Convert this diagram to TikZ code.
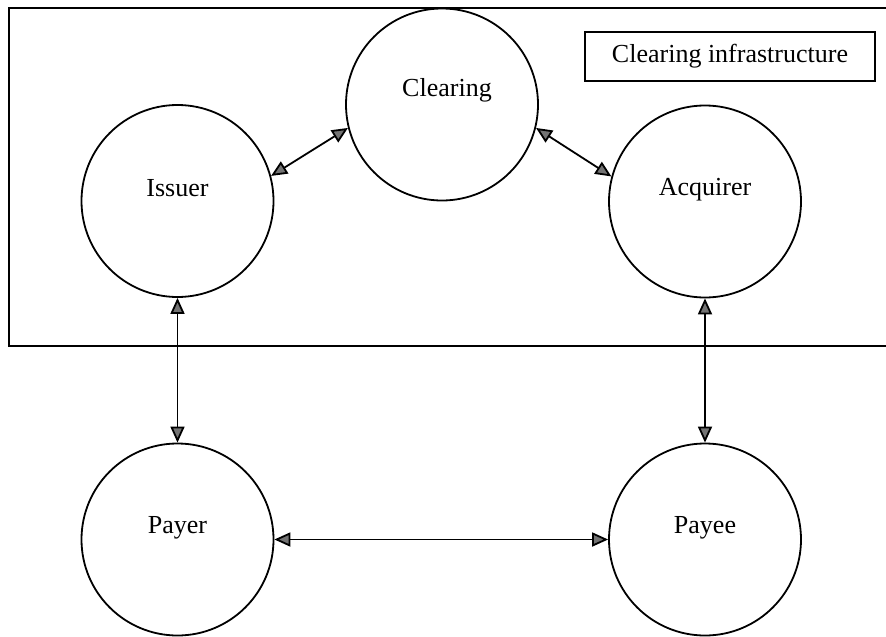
\documentclass[tikz,border=0pt]{standalone}
\usepackage{fontspec}
\setmainfont{Liberation Serif}
\usetikzlibrary{arrows.meta}
\begin{document}
\begin{tikzpicture}[x=1pt,y=-1pt,
  party/.style={draw, circle, line width=1.8pt, minimum size=192pt, inner sep=0pt},
  caption/.style={font=\fontsize{26}{30}\selectfont, inner sep=0pt},
  tip/.tip={Triangle[length=16pt,width=14pt,fill=black!55]},
  link/.style={line width=1.8pt, tip-tip}
]
\useasboundingbox (0,0) rectangle (886,637);
\clip (0,0) rectangle (886,637);

% clearing infrastructure frame (open to the right)
\draw[line width=1.7pt] (900,8) -- (9,8) -- (9,346) -- (900,346);
\node[draw, line width=1.6pt, minimum width=290pt, minimum height=49pt,
      caption, inner sep=0pt] (legend) at (730,56.5) {Clearing infrastructure};

% parties
\node[party, label={[caption, name=tclearing, xshift=5pt, yshift=14pt]center:Clearing}] (clearing) at (442,104.5) {};
\node[party, label={[caption, name=tissuer, yshift=13pt]center:Issuer}] (issuer) at (177.5,201) {};
\node[party, label={[caption, name=tacquirer, yshift=12pt]center:Acquirer}] (acquirer) at (705,201.5) {};
\node[party, label={[caption, name=tpayer, yshift=12pt]center:Payer}] (payer) at (177.5,539.5) {};
\node[party, label={[caption, name=tpayee, yshift=12pt]center:Payee}] (payee) at (705,539.5) {};

% two-way links
\draw[link] (issuer.15) -- (clearing.194);
\draw[link] (clearing.346) -- (acquirer.165);
\draw[link] (issuer.south) -- (payer.north);
\draw[link] (acquirer.south) -- (payee.north);
\draw[link] (payer.east) -- (payee.west);
\end{tikzpicture}
\end{document}
